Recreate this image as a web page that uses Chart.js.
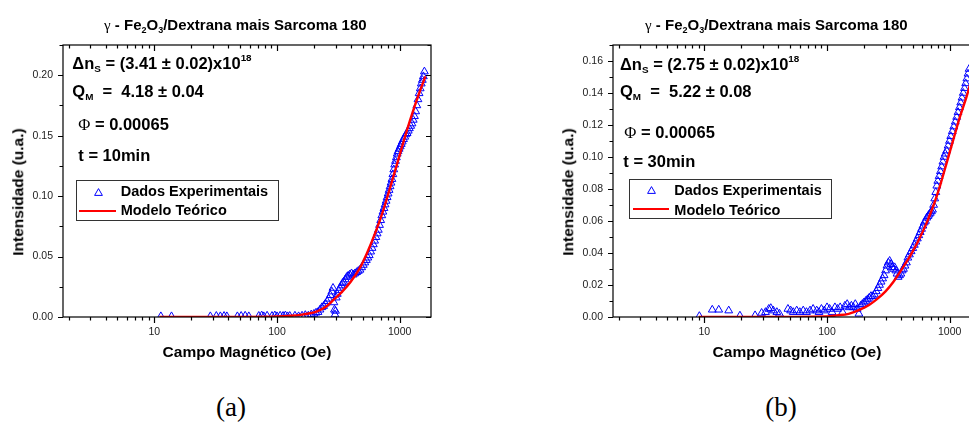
<!DOCTYPE html>
<html lang="pt">
<head>
<meta charset="UTF-8" />
<title>Fe2O3/Dextrana mais Sarcoma 180</title>
<script src="https://cdn.jsdelivr.net/npm/chart.js@4/dist/chart.umd.min.js"></script>
<style>
  body { margin: 0; width: 969px; height: 424px; overflow: hidden; background: #fff; position: relative;
         font-family: "Liberation Sans", Arial, sans-serif; }
  canvas { position: absolute; top: 0; }
  #chartA { left: 0; }
  #chartB { left: 550px; }
  .txt { position: absolute; white-space: pre; line-height: 1; font-weight: bold; color: #000; }
  .ttl { font-size: 15px; }
  .note { font-size: 16.5px; }
  .leg { font-size: 14.5px; }
  sub, sup { line-height: 0; font-size: 0.6em; }
  sub { vertical-align: -0.33em; }
  sup { vertical-align: 0.78em; }
  .sym { font-family: "Liberation Serif", serif; font-weight: normal; }
  .ylab { font-size: 15.5px; transform: translate(-50%, -50%) rotate(-90deg); }
  .box { position: absolute; border: 1px solid #333; box-sizing: border-box; }
  .redline { position: absolute; height: 2px; background: #ff0000; }
  .tri { position: absolute; }
  .cap { position: absolute; font-family: "Liberation Serif", serif; font-size: 27px; line-height: 1;
         transform: translateX(-50%); }
</style>
</head>
<body>
  <canvas id="chartA" width="450" height="380"></canvas>
  <canvas id="chartB" width="450" height="380"></canvas>

  <!-- titulos -->
  <div class="txt ttl" style="left:104px; top:17.3px;"><span class="sym">γ</span> - Fe<sub>2</sub>O<sub>3</sub>/Dextrana mais Sarcoma 180</div>
  <div class="txt ttl" style="left:645px; top:17.3px;"><span class="sym">γ</span> - Fe<sub>2</sub>O<sub>3</sub>/Dextrana mais Sarcoma 180</div>

  <!-- eixo y -->
  <div class="txt ylab" style="left:17.8px; top:192px;">Intensidade (u.a.)</div>
  <div class="txt ylab" style="left:568.3px; top:191.7px;">Intensidade (u.a.)</div>

  <!-- parametros do ajuste (a) -->
  <div class="txt note" style="left:72.3px; top:55.3px;">Δn<sub>S</sub> = (3.41 ± 0.02)x10<sup>18</sup></div>
  <div class="txt note" style="left:72.3px; top:82.7px;">Q<sub>M</sub>  =  4.18 ± 0.04</div>
  <div class="txt note" style="left:78.3px; top:116px;"><span class="sym">Φ</span> = 0.00065</div>
  <div class="txt note" style="left:78.3px; top:146.7px;">t = 10min</div>

  <!-- parametros do ajuste (b) -->
  <div class="txt note" style="left:620px; top:56px;">Δn<sub>S</sub> = (2.75 ± 0.02)x10<sup>18</sup></div>
  <div class="txt note" style="left:620px; top:83.3px;">Q<sub>M</sub>  =  5.22 ± 0.08</div>
  <div class="txt note" style="left:624.3px; top:124.3px;"><span class="sym">Φ</span> = 0.00065</div>
  <div class="txt note" style="left:623.3px; top:153.3px;">t = 30min</div>

  <!-- legendas -->
  <div class="box" style="left:76px; top:180px; width:203px; height:41px;"></div>
  <svg class="tri" style="left:94px; top:188px;" width="9" height="8"><polygon points="4.5,0.6 8.4,7.4 0.6,7.4" fill="none" stroke="#0000ff" stroke-width="1"/></svg>
  <div class="txt leg" style="left:120.7px; top:184.1px;">Dados Experimentais</div>
  <div class="redline" style="left:79.3px; top:209.7px; width:36.7px;"></div>
  <div class="txt leg" style="left:120.7px; top:203.4px;">Modelo Teórico</div>

  <div class="box" style="left:629.3px; top:179.3px; width:203px; height:40px;"></div>
  <svg class="tri" style="left:646.5px; top:186px;" width="9" height="8"><polygon points="4.5,0.6 8.4,7.4 0.6,7.4" fill="none" stroke="#0000ff" stroke-width="1"/></svg>
  <div class="txt leg" style="left:674.3px; top:182.9px;">Dados Experimentais</div>
  <div class="redline" style="left:632.7px; top:208.3px; width:36.6px;"></div>
  <div class="txt leg" style="left:674.3px; top:202.6px;">Modelo Teórico</div>

  <div class="cap" style="left:231px; top:394.4px;">(a)</div>
  <div class="cap" style="left:781px; top:394.4px;">(b)</div>

<script>
  // eixos
  const xTicks = [10, 100, 1000];
  const yTicksA = [0, 0.05, 0.10, 0.15, 0.20];
  const yTicksB = [0, 0.02, 0.04, 0.06, 0.08, 0.10, 0.12, 0.14, 0.16];

  // (a) t = 10 min - dados experimentais
  const campoA = [11.3, 13.8, 28.6, 32, 34.5, 37, 39, 47.5, 51, 55, 58.9, 71, 75, 78, 83, 91, 96, 100, 106, 112,
    117, 122, 127, 140, 150, 160, 170, 180, 190, 200, 208, 216, 224, 232, 240, 248, 256, 264, 272, 280,
    286, 291, 294, 297, 300, 304, 310, 318, 326, 334, 342, 350, 360, 370, 380, 392, 405, 418, 432, 446,
    460, 475, 490, 505, 520, 535, 550, 565, 580, 595, 610, 625, 640, 655, 670, 685, 700, 715, 730, 745,
    760, 775, 790, 805, 820, 835, 850, 865, 880, 895, 910, 925, 940, 955, 970, 990, 1010, 1030, 1050, 1075,
    1100, 1125, 1150, 1175, 1200, 1230, 1260, 1290, 1320, 1350, 1380, 1410, 1440, 1470, 1500, 1530, 1560, 1590];
  const intA = [0.0005, 0.0005, 0.0005, 0.0008, 0.0005, 0.0008, 0.0005, 0.0005, 0.0008, 0.001, 0.0005, 0.0008, 0.0012, 0.0005, 0.001, 0.0008, 0.0012, 0.0005, 0.001, 0.0008,
    0.0012, 0.0005, 0.0008, 0.001, 0.0005, 0.001, 0.0015, 0.001, 0.002, 0.0025, 0.0035, 0.004, 0.006, 0.008, 0.009, 0.011, 0.013, 0.015, 0.018, 0.021,
    0.024, 0.012, 0.006, 0.002, 0.005, 0.016, 0.019, 0.022, 0.024, 0.026, 0.028, 0.029, 0.031, 0.033, 0.034, 0.035, 0.036, 0.035, 0.036, 0.037,
    0.038, 0.039, 0.041, 0.043, 0.045, 0.047, 0.049, 0.051, 0.054, 0.057, 0.060, 0.063, 0.066, 0.069, 0.072, 0.076, 0.080, 0.084, 0.087, 0.090,
    0.093, 0.096, 0.099, 0.102, 0.105, 0.108, 0.111, 0.114, 0.118, 0.122, 0.126, 0.129, 0.132, 0.135, 0.137, 0.139, 0.141, 0.143, 0.145, 0.147,
    0.149, 0.151, 0.152, 0.154, 0.156, 0.158, 0.160, 0.163, 0.166, 0.170, 0.175, 0.180, 0.185, 0.189, 0.193, 0.196, 0.199, 0.203];

  // (a) modelo teorico
  const campoFitA = [11, 50, 100, 130, 160, 190, 212, 250, 290, 340, 396, 470, 542, 640, 741, 870, 1013, 1150, 1300, 1475, 1620];
  const intFitA = [0, 0.0001, 0.0004, 0.001, 0.002, 0.0033, 0.0046, 0.0085, 0.0143, 0.021, 0.0288, 0.040, 0.053, 0.071, 0.0895, 0.113, 0.136, 0.155, 0.172, 0.188, 0.199];

  // (b) t = 30 min - dados experimentais
  const campoB = [9.1, 11.6, 13.1, 15.8, 19.5, 25.9, 29.3, 31.5, 33.5, 34.8, 36.5, 39, 41, 48, 50.5, 53, 56.6, 60, 64,
    68, 72.7, 77, 82.4, 86, 90, 95, 100, 105, 110, 116, 122, 128, 134, 140, 146, 152, 158, 164, 170,
    176, 182, 188, 194, 200, 207, 214, 221, 228, 236, 244, 252, 260, 268, 276, 284, 292, 300, 308, 316,
    324, 332, 340, 348, 356, 364, 372, 380, 390, 400, 410, 420, 432, 444, 456, 470, 485, 500, 515, 530,
    545, 560, 575, 590, 605, 620, 635, 650, 665, 680, 695, 710, 725, 740, 755, 770, 785, 800, 820, 840,
    860, 880, 900, 920, 945, 970, 995, 1020, 1050, 1080, 1110, 1140, 1170, 1200, 1230, 1260, 1290, 1320, 1350, 1380, 1410, 1440];
  const intB = [0.0005, 0.0045, 0.0045, 0.004, 0.0008, 0.001, 0.0025, 0.003, 0.005, 0.0055, 0.004, 0.003, 0.002, 0.005, 0.004, 0.003, 0.004, 0.003, 0.004,
    0.003, 0.004, 0.005, 0.004, 0.003, 0.005, 0.004, 0.006, 0.005, 0.003, 0.006, 0.005, 0.006, 0.003, 0.007, 0.008, 0.006, 0.007, 0.006, 0.008,
    0.005, 0.002, 0.007, 0.008, 0.009, 0.010, 0.011, 0.012, 0.013, 0.013, 0.014, 0.016, 0.018, 0.020, 0.022, 0.024, 0.026, 0.029, 0.032, 0.034,
    0.035, 0.033, 0.031, 0.030, 0.031, 0.029, 0.027, 0.025, 0.026, 0.027, 0.029, 0.030, 0.032, 0.034, 0.037, 0.039, 0.041, 0.043, 0.045, 0.047,
    0.049, 0.051, 0.053, 0.055, 0.057, 0.059, 0.060, 0.062, 0.063, 0.064, 0.065, 0.066, 0.067, 0.070, 0.074, 0.078, 0.082, 0.085, 0.088, 0.091,
    0.094, 0.097, 0.100, 0.102, 0.104, 0.107, 0.110, 0.113, 0.116, 0.119, 0.122, 0.125, 0.128, 0.131, 0.134, 0.137, 0.140, 0.143, 0.146, 0.149, 0.152, 0.155];

  // (b) modelo teorico
  const campoFitB = [9, 50, 100, 120, 150, 186, 220, 254, 300, 348, 400, 475, 550, 650, 740, 834, 950, 1072, 1200, 1377, 1500, 1600];
  const intFitB = [0, 0.0001, 0.0003, 0.001, 0.002, 0.0046, 0.0075, 0.011, 0.016, 0.022, 0.029, 0.038, 0.047, 0.059, 0.070, 0.082, 0.097, 0.111, 0.124, 0.138, 0.148, 0.155];

  const FONT = '"Liberation Sans", Arial, sans-serif';

  // moldura completa + marcas maiores/menores nos quatro lados
  const frameTicks = {
    id: 'frameTicks',
    afterDraw(chart, args, opts) {
      const { ctx, chartArea: a, scales: { x, y } } = chart;
      ctx.save();
      ctx.strokeStyle = '#000';
      ctx.lineWidth = 1.2;
      ctx.strokeRect(a.left, a.top, a.right - a.left, a.bottom - a.top);
      ctx.beginPath();
      for (let d = 1; d <= 1000; d *= 10) {
        for (let m = 1; m <= 9; m++) {
          const v = m * d;
          if (v < x.min || v > x.max) continue;
          const px = Math.round(x.getPixelForValue(v)) + 0.5;
          const len = m === 1 ? 6 : 3.5;
          ctx.moveTo(px, a.bottom); ctx.lineTo(px, a.bottom + len);
          ctx.moveTo(px, a.top); ctx.lineTo(px, a.top + len);
        }
      }
      const step = opts.minor;
      for (let i = 0; i * step <= y.max + 1e-9; i++) {
        const py = Math.round(y.getPixelForValue(i * step)) + 0.5;
        const len = i % 2 === 0 ? 5 : 3.5;
        ctx.moveTo(a.left - len, py); ctx.lineTo(a.left, py);
        ctx.moveTo(a.right - len, py); ctx.lineTo(a.right, py);
      }
      ctx.stroke();
      ctx.restore();
    }
  };

  function drawChart(id, xs, ys, fxs, fys, yMax, yTicks, yMinor) {
    const exp = xs.map((v, i) => ({ x: v, y: ys[i] }));
    const fit = fxs.map((v, i) => ({ x: v, y: fys[i] }));
    return new Chart(document.getElementById(id), {
      type: 'line',
      data: {
        datasets: [
          {
            label: 'Modelo Teórico',
            data: fit,
            borderColor: '#ff0000',
            borderWidth: 2.4,
            pointRadius: 0,
            cubicInterpolationMode: 'monotone',
            fill: false,
          },
          {
            label: 'Dados Experimentais',
            data: exp,
            showLine: false,
            pointStyle: 'triangle',
            pointRadius: 4.5,
            pointBorderColor: '#0000ff',
            pointBackgroundColor: 'rgba(0,0,0,0)',
            pointBorderWidth: 1,
          },
        ],
      },
      options: {
        responsive: false,
        animation: false,
        events: [],
        layout: { padding: { top: 45, right: 19, left: 0, bottom: 0 } },
        plugins: {
          legend: { display: false },
          tooltip: { enabled: false },
          frameTicks: { minor: yMinor },
        },
        scales: {
          x: {
            type: 'logarithmic',
            min: 1.8,
            max: 1800,
            bounds: 'data',
            grid: { display: false, drawTicks: false },
            border: { display: false },
            afterBuildTicks: (s) => { s.ticks = xTicks.map((v) => ({ value: v })); },
            afterFit: (s) => { s.height = 63; },
            ticks: {
              autoSkip: false,
              maxRotation: 0,
              padding: 9,
              color: '#222',
              font: { family: FONT, size: 10.5 },
              callback: (v) => String(v),
            },
            title: {
              display: true,
              text: 'Campo Magnético (Oe)',
              color: '#000',
              font: { family: FONT, size: 15.5, weight: 'bold' },
              padding: { top: 0, bottom: 17.7 },
            },
          },
          y: {
            type: 'linear',
            min: 0,
            max: yMax,
            bounds: 'data',
            grid: { display: false, drawTicks: false },
            border: { display: false },
            afterBuildTicks: (s) => { s.ticks = yTicks.map((v) => ({ value: v })); },
            afterFit: (s) => { s.width = 63; },
            ticks: {
              padding: 10,
              color: '#222',
              font: { family: FONT, size: 10.5 },
              callback: (v) => v.toFixed(2),
            },
          },
        },
      },
      plugins: [frameTicks],
    });
  }

  drawChart('chartA', campoA, intA, campoFitA, intFitA, 0.225, yTicksA, 0.025);
  drawChart('chartB', campoB, intB, campoFitB, intFitB, 0.17, yTicksB, 0.01);
</script>
</body>
</html>
